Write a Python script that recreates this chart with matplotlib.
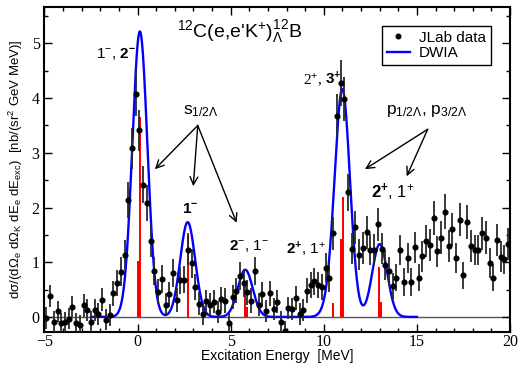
import numpy as np
import matplotlib
matplotlib.use('Agg')
import matplotlib.pyplot as plt
from matplotlib.lines import Line2D

# ---------------- data ----------------
E_data = [-4.9, -4.7, -4.5, -4.3, -4.1, -3.9, -3.7, -3.5, -3.3, -3.1,
          -2.9, -2.7, -2.5, -2.3, -2.1, -1.9, -1.7, -1.5, -1.3, -1.1,
          -0.9, -0.7, -0.5, -0.3, -0.1, 0.1, 0.3, 0.5, 0.7, 0.9,
          1.1, 1.3, 1.5, 1.7, 1.9, 2.1, 2.3, 2.5, 2.7, 2.9,
          3.1, 3.3, 3.5, 3.7, 3.9, 4.1, 4.3, 4.5, 4.7, 4.9,
          5.1, 5.3, 5.5, 5.7, 5.9, 6.1, 6.3, 6.5, 6.7, 6.9,
          7.1, 7.3, 7.5, 7.7, 7.9, 8.1, 8.3, 8.5, 8.7, 8.9,
          9.1, 9.3, 9.5, 9.7, 9.9, 10.1, 10.3, 10.5, 10.7, 10.9,
          11.1, 11.3, 11.5, 11.7, 11.9, 12.1, 12.3, 12.5, 12.7, 12.9,
          13.1, 13.3, 13.5, 13.7, 13.9, 14.1, 14.3, 14.5, 14.7, 14.9,
          15.1, 15.3, 15.5, 15.7, 15.9, 16.1, 16.3, 16.5, 16.7, 16.9,
          17.1, 17.3, 17.5, 17.7, 17.9, 18.1, 18.3, 18.5, 18.7, 18.9,
          19.1, 19.3, 19.5, 19.7, 19.9]
Y_data = [-0.02, 0.38, -0.09, 0.10, -0.11, -0.10, -0.03, 0.19, -0.11, -0.15,
          0.21, 0.12, -0.09, 0.12, 0.06, 0.31, -0.05, 0.03, 0.43, 0.62,
          0.83, 1.13, 2.14, 3.08, 4.07, 3.41, 2.42, 2.09, 1.39, 0.84,
          0.46, 0.69, 0.22, 0.41, 0.80, 0.31, 0.67, 0.68, 1.22, 0.98,
          0.55, 0.24, 0.06, 0.29, 0.22, 0.28, 0.09, 0.32, 0.30, -0.11,
          0.37, 0.48, 0.75, 0.62, 0.45, 0.30, 0.84, 0.22, 0.41, 0.11,
          0.43, 0.15, 0.28, -0.09, -0.26, 0.16, 0.14, 0.35, 0.06, 0.12,
          0.48, 0.58, 0.65, 0.58, 0.55, 0.90, 0.71, 1.53, 3.68, 4.27,
          3.99, 2.28, 1.25, 1.64, 1.14, 1.26, 1.55, 1.23, 1.23, 1.69,
          1.25, 0.95, 0.84, 0.56, 0.72, 1.22, 0.64, 1.08, 0.64, 1.27,
          0.72, 1.11, 1.39, 1.31, 1.80, 1.20, 1.45, 1.92, 1.29, 1.60,
          1.08, 1.78, 0.76, 1.73, 1.29, 1.22, 1.22, 1.53, 1.45, 0.99,
          0.72, 1.40, 1.10, 1.05, 1.33]
Y_err = [0.20, 0.20, 0.19, 0.20, 0.19, 0.19, 0.19, 0.20, 0.19, 0.18,
         0.21, 0.20, 0.19, 0.20, 0.20, 0.21, 0.19, 0.20, 0.23, 0.24,
         0.26, 0.28, 0.33, 0.37, 0.40, 0.38, 0.34, 0.33, 0.29, 0.26,
         0.23, 0.25, 0.21, 0.22, 0.26, 0.22, 0.25, 0.25, 0.28, 0.27,
         0.24, 0.21, 0.20, 0.21, 0.21, 0.21, 0.20, 0.22, 0.22, 0.19,
         0.22, 0.23, 0.25, 0.25, 0.23, 0.22, 0.26, 0.21, 0.22, 0.20,
         0.23, 0.20, 0.21, 0.19, 0.18, 0.20, 0.20, 0.22, 0.20, 0.20,
         0.23, 0.24, 0.25, 0.24, 0.24, 0.26, 0.25, 0.30, 0.39, 0.42,
         0.40, 0.34, 0.29, 0.30, 0.28, 0.29, 0.30, 0.29, 0.29, 0.31,
         0.29, 0.27, 0.26, 0.24, 0.25, 0.28, 0.25, 0.28, 0.25, 0.29,
         0.25, 0.28, 0.29, 0.29, 0.31, 0.28, 0.30, 0.32, 0.29, 0.30,
         0.28, 0.31, 0.25, 0.31, 0.29, 0.28, 0.28, 0.30, 0.30, 0.27,
         0.25, 0.29, 0.28, 0.27, 0.29]

# theoretical (DWIA) spectroscopic strengths (red bars)
bar_E = [0.02, 0.15, 2.69, 5.76, 5.85, 10.49, 10.95, 11.05, 12.98, 13.08]
bar_H = [1.02, 3.66, 1.54, 0.59, 0.18, 0.25, 1.43, 2.19, 0.92, 0.27]
res_sigma = 0.40      # experimental resolution (MeV)
curve_scale = 1.125
curve_lo, curve_hi = -2.5, 15.0

# ---------------- style ----------------
plt.rcParams['mathtext.fontset'] = 'custom'
plt.rcParams['mathtext.rm'] = 'Liberation Sans'
plt.rcParams['mathtext.it'] = 'Liberation Sans'
plt.rcParams['mathtext.bf'] = 'Liberation Sans:bold'
plt.rcParams['mathtext.sf'] = 'Liberation Sans'
plt.rcParams['mathtext.default'] = 'rm'
plt.rcParams['font.family'] = ['Liberation Sans', 'DejaVu Sans']

fig = plt.figure(figsize=(5.19, 3.67), dpi=100)
ax = fig.add_axes([0.0857, 0.0962, 0.8970, 0.8855])

ax.axhline(0, color='#555555', lw=1.0, zorder=1)

ax.bar(bar_E, bar_H, width=0.11, color='red', zorder=2, linewidth=0)

Ec = np.linspace(curve_lo, curve_hi, 2000)
curve = np.zeros_like(Ec)
for e, h in zip(bar_E, bar_H):
    curve += curve_scale * h * np.exp(-(Ec - e) ** 2 / (2 * res_sigma ** 2))
ax.plot(Ec, curve, color='#0000ff', lw=1.7, zorder=3)

ax.errorbar(E_data, Y_data, yerr=Y_err, fmt='o', color='black', ms=3.4,
            ecolor='#2a2a2a', elinewidth=1.3, capsize=0, zorder=4)

ax.set_xlim(-5, 20)
ax.set_ylim(-0.27, 5.67)
ax.set_xticks([-5, 0, 5, 10, 15, 20])
ax.set_xticks(np.arange(-5, 21, 1), minor=True)
ax.set_yticks([0, 1, 2, 3, 4, 5])
ax.set_yticks(np.arange(0, 5.6, 0.5), minor=True)
ax.tick_params(which='both', direction='in', top=True, right=True, width=1)
ax.tick_params(which='major', length=6)
ax.tick_params(which='minor', length=3)
ax.tick_params(axis='x', pad=2)
for lab in ax.get_xticklabels() + ax.get_yticklabels():
    lab.set_family('Liberation Serif')
    lab.set_fontsize(11.5)
for sp in ax.spines.values():
    sp.set_linewidth(1.5)

ax.set_xlabel('Excitation Energy  [MeV]', fontsize=10, labelpad=-1)
ax.set_ylabel(r'd$\sigma$/(d$\Omega_e$ d$\Omega_K$ dE$_e$ dE$_{exc}$)  [nb/(sr$^2$ GeV MeV)]',
              fontsize=9.5, labelpad=5)

# reaction label
ax.text(2.12, 5.12, r"$^{12}$C(e,e'K$^{+}$)$^{12}_{\Lambda}$B", fontsize=14,
        ha='left', va='baseline')

# level labels
ax.text(-2.25, 4.74, r'1$^{-}$, $\mathbf{2^{-}}$', fontsize=11, ha='left', va='baseline')
ax.text(2.41, 1.9, r'$\mathbf{1^{-}}$', fontsize=11, ha='left', va='baseline')
ax.text(4.91, 1.23, r'$\mathbf{2}^{-}$, 1$^{-}$', fontsize=11, ha='left', va='baseline')
ax.text(7.97, 1.14, r'$\mathbf{2^{+}}$, 1$^{+}$', fontsize=11, ha='left', va='baseline')
ax.text(8.9, 4.25, r'2$^{+}$, ', fontsize=11, ha='left', va='baseline',
        family='Liberation Serif')
ax.text(10.05, 4.25, r'$\mathbf{3^{+}}$', fontsize=11, ha='left', va='baseline')
ax.text(12.52, 2.18, r'$\mathbf{2^{+}}$, 1$^{+}$', fontsize=12, ha='left', va='baseline')

ax.text(2.45, 3.70, r's$_{1/2\Lambda}$', fontsize=12.5, ha='left', va='baseline')
ax.text(13.34, 3.70, r'p$_{1/2\Lambda}$, p$_{3/2\Lambda}$', fontsize=12.5,
        ha='left', va='baseline')

arrow_kw = dict(arrowstyle='->', color='black', lw=1.0, mutation_scale=14,
                shrinkA=0, shrinkB=0)
for hx, hy in [(0.93, 2.70), (2.99, 2.39), (5.32, 1.72)]:
    ax.annotate('', xy=(hx, hy), xytext=(3.23, 3.50), arrowprops=arrow_kw)
for hx, hy in [(12.21, 2.70), (14.45, 2.57)]:
    ax.annotate('', xy=(hx, hy), xytext=(15.58, 3.43), arrowprops=arrow_kw)

handles = [Line2D([], [], marker='o', ls='none', color='black', ms=3.3),
           Line2D([], [], color='#0000ff', lw=1.7)]
leg = ax.legend(handles, ['JLab data', 'DWIA'], loc='upper right',
                bbox_to_anchor=(0.9585, 0.9406), borderaxespad=0, fontsize=11,
                frameon=True, fancybox=False, edgecolor='black', framealpha=1,
                handlelength=1.5, handletextpad=0.6, borderpad=0.3,
                labelspacing=0.1)
leg.get_frame().set_linewidth(1.0)

fig.savefig('out.png', dpi=100)
